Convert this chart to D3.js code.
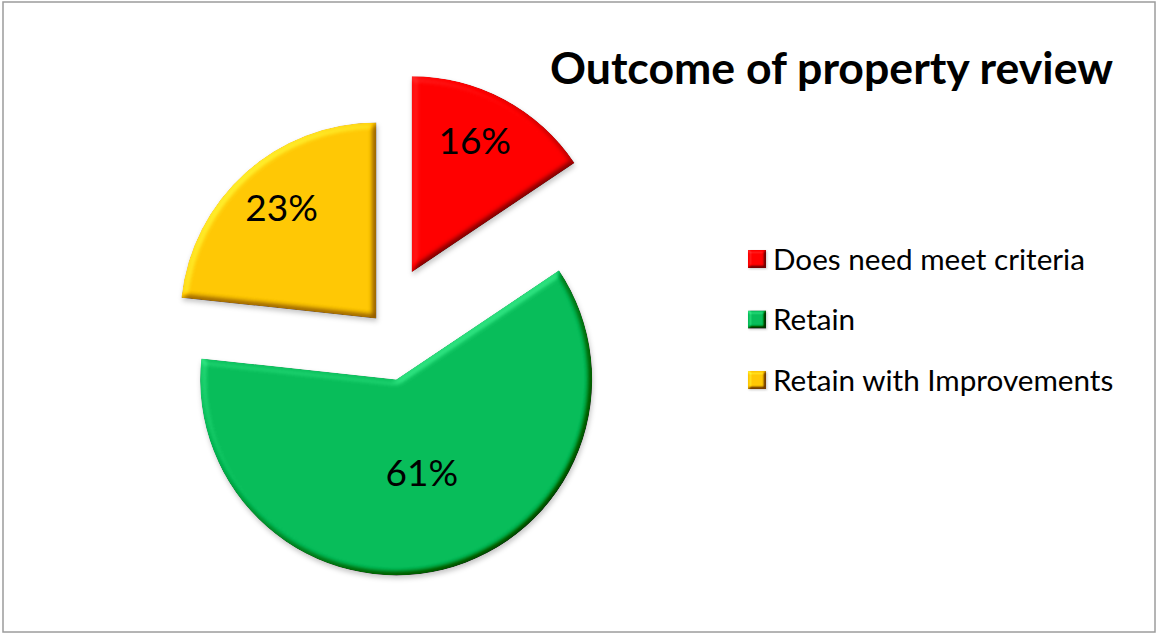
<!DOCTYPE html>
<html>
<head>
<meta charset="utf-8">
<script src="https://cdn.jsdelivr.net/npm/d3@7"></script>
<style>
  html, body { margin: 0; padding: 0; background: #fff; }
  svg { display: block; }
</style>
</head>
<body>
<script>
// ---------- data ----------
const categories = ["Does need meet criteria", "Retain", "Retain with Improvements"];
const values = [15.6, 61.1, 23.3];
const title = "Outcome of property review";

// ---------- styles ----------
const colors = ["#FF0000", "#08BD5A", "#FFC805"];
const explode = [61, 55, 10];        // px each slice is pulled out
const labelDist = [146, 97, 146];    // label distance from slice apex
const labelTurn = [-2.5, -1.5, 1.5]; // small angular nudge of label (deg)
const FONT = "Lato, 'Open Sans', sans-serif";

const W = 1157, H = 634;
const cx = 383, cy = 326, R = 196;

const svg = d3.select("body").append("svg").attr("width", W).attr("height", H);
svg.append("rect").attr("width", W).attr("height", H).attr("fill", "#fff");
svg.append("rect").attr("x", 3).attr("y", 2).attr("width", 1152).attr("height", 630)
  .attr("fill", "none").attr("stroke", "#9c9c9c").attr("stroke-width", 1.5);

// ---------- filters (bevel + shadow) ----------
const defs = svg.append("defs");
function makeBevel(id, blur, scale, shadowBlur, dy, k3) {
  const f = defs.append("filter").attr("id", id)
    .attr("x", "-20%").attr("y", "-20%").attr("width", "140%").attr("height", "140%")
    .attr("color-interpolation-filters", "sRGB");
  f.append("feGaussianBlur").attr("in", "SourceAlpha").attr("stdDeviation", blur).attr("result", "blur");
  const dl = f.append("feDiffuseLighting").attr("in", "blur").attr("surfaceScale", scale)
    .attr("diffuseConstant", 1).attr("lighting-color", "#ffffff").attr("result", "light");
  dl.append("feDistantLight").attr("azimuth", 225).attr("elevation", 50);
  const k4 = -k3 * Math.sin(50 * Math.PI / 180);
  f.append("feComposite").attr("in", "SourceGraphic").attr("in2", "light").attr("operator", "arithmetic")
    .attr("k1", 0).attr("k2", 1).attr("k3", k3).attr("k4", k4).attr("result", "lit");
  f.append("feComposite").attr("in", "lit").attr("in2", "SourceAlpha").attr("operator", "in").attr("result", "litIn");
  f.append("feGaussianBlur").attr("in", "SourceAlpha").attr("stdDeviation", shadowBlur).attr("result", "sb");
  f.append("feOffset").attr("in", "sb").attr("dx", 1).attr("dy", dy).attr("result", "so");
  f.append("feFlood").attr("flood-color", "#000").attr("flood-opacity", 0.22).attr("result", "fc");
  f.append("feComposite").attr("in", "fc").attr("in2", "so").attr("operator", "in").attr("result", "shadow");
  const m = f.append("feMerge");
  m.append("feMergeNode").attr("in", "shadow");
  m.append("feMergeNode").attr("in", "litIn");
}
makeBevel("bevel", 3, 5, 2.5, 3, 0.6);
makeBevel("bevelSmall", 1.6, 4, 1, 1, 0.7);

// ---------- pie ----------
const data = categories.map((c, i) => ({ cat: c, value: values[i], i }));
const total = d3.sum(values);
const pct = d3.format(".0%");
const pie = d3.pie().value(d => d.value).sort(null).startAngle(0).endAngle(2 * Math.PI);
const arc = d3.arc().innerRadius(0).outerRadius(R);
const arcs = pie(data);

const g = svg.append("g").attr("transform", `translate(${cx},${cy})`);
const slice = g.selectAll("g.slice").data(arcs).join("g").attr("class", "slice")
  .attr("transform", d => {
    const mid = (d.startAngle + d.endAngle) / 2, e = explode[d.data.i];
    return `translate(${e * Math.sin(mid)},${-e * Math.cos(mid)})`;
  });
slice.append("path").attr("d", arc).attr("fill", d => colors[d.data.i]).attr("filter", "url(#bevel)");

const labelFs = 37;
const labAng = d => (d.startAngle + d.endAngle) / 2 + labelTurn[d.data.i] * Math.PI / 180;
slice.append("text")
  .attr("x", d => labelDist[d.data.i] * Math.sin(labAng(d)))
  .attr("y", d => -labelDist[d.data.i] * Math.cos(labAng(d)) + 0.36 * labelFs)
  .attr("text-anchor", "middle")
  .attr("font-family", FONT).attr("font-size", labelFs).attr("fill", "#000")
  .text(d => pct(d.data.value / total));

// ---------- title ----------
function fitWidth(sel, target) {
  const w = sel.node().getComputedTextLength();
  const fs = parseFloat(sel.attr("font-size"));
  sel.attr("font-size", (fs * target / w).toFixed(2));
  return fs * target / w;
}
const t = svg.append("text").attr("x", 550).attr("y", 84)
  .attr("font-family", FONT).attr("font-weight", 700).attr("font-size", 40).attr("fill", "#000")
  .text(title);
fitWidth(t, 563);

// ---------- legend ----------
const legX = 748, legY0 = 259, legGap = 60.5, sq = 18;
const leg = svg.append("g").selectAll("g").data(categories).join("g")
  .attr("transform", (d, i) => `translate(${legX},${legY0 + i * legGap})`);
leg.append("rect").attr("x", 0).attr("y", -sq / 2).attr("width", sq).attr("height", sq)
  .attr("fill", (d, i) => colors[i]).attr("filter", "url(#bevelSmall)");
const legText = leg.append("text").attr("x", 25)
  .attr("font-family", FONT).attr("font-size", 26).attr("fill", "#000")
  .text(d => d);
const fs0 = fitWidth(d3.select(legText.nodes()[0]), 312);
legText.attr("font-size", fs0.toFixed(2)).attr("y", 0.36 * fs0);
</script>
</body>
</html>
